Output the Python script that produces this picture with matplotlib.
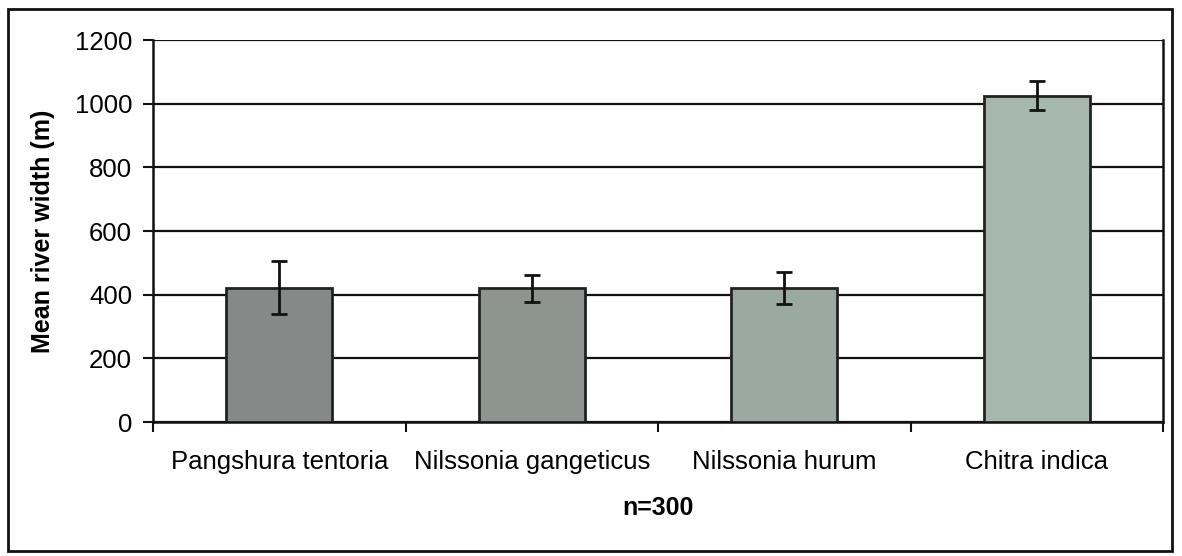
import matplotlib
matplotlib.use("Agg")
import matplotlib.pyplot as plt
from matplotlib.patches import Rectangle

categories = ["Pangshura tentoria", "Nilssonia gangeticus", "Nilssonia hurum", "Chitra indica"]
mean_width = [422, 420, 420, 1025]
err = [83, 43, 50, 45]
bar_colors = ["#858987", "#8e9591", "#9aa9a2", "#a6b8ae"]
yticks = [0, 200, 400, 600, 800, 1000, 1200]

plt.rcParams['font.family'] = ['Liberation Sans', 'DejaVu Sans']

fig = plt.figure(figsize=(11.82, 5.56), dpi=100)
ax = fig.add_axes([153/1182, 1-422/556, (1163-153)/1182, (422-40)/556])

x = list(range(len(categories)))
ax.bar(x, mean_width, width=0.42, color=bar_colors, edgecolor="#222222", linewidth=2, zorder=3)
ax.errorbar(x, mean_width, yerr=err, fmt='none', ecolor='#111111', elinewidth=2,
            capsize=6, capthick=2, zorder=4)

ax.set_xlim(-0.5, len(categories) - 0.5)
ax.set_ylim(0, 1200)
ax.set_yticks(yticks)
ax.set_yticklabels([str(v) for v in yticks], fontsize=18.5)
ax.yaxis.grid(True, color="#111111", linewidth=1.6, zorder=0)
ax.set_axisbelow(True)

ax.set_xticks([i - 0.5 for i in range(len(categories) + 1)])
ax.set_xticklabels([])
ax.set_xticks(x, minor=True)
ax.set_xticklabels(categories, minor=True, fontsize=18.5)
ax.tick_params(axis='x', which='minor', length=0, pad=20)
ax.tick_params(axis='x', which='major', length=7, width=1.5, direction='out', color="#111111")
ax.tick_params(axis='y', length=7, width=1.5, direction='out', color="#111111", pad=8)

for side in ['left', 'bottom']:
    ax.spines[side].set_linewidth(1.8)
    ax.spines[side].set_color("#111111")
ax.spines['top'].set_visible(False)
ax.spines['right'].set_linewidth(1.8)
ax.spines['right'].set_color("#111111")

ax.set_ylabel("Mean river width (m)", fontsize=18, fontweight='bold', labelpad=14)
ax.set_xlabel("n=300", fontsize=18, fontweight='bold', labelpad=16)

fig.patches.append(Rectangle((8/1182, 1-551/556), (1172-8)/1182, (551-9)/556,
                             transform=fig.transFigure, fill=False,
                             edgecolor="#111111", linewidth=2))

fig.savefig("out.png", dpi=100)
